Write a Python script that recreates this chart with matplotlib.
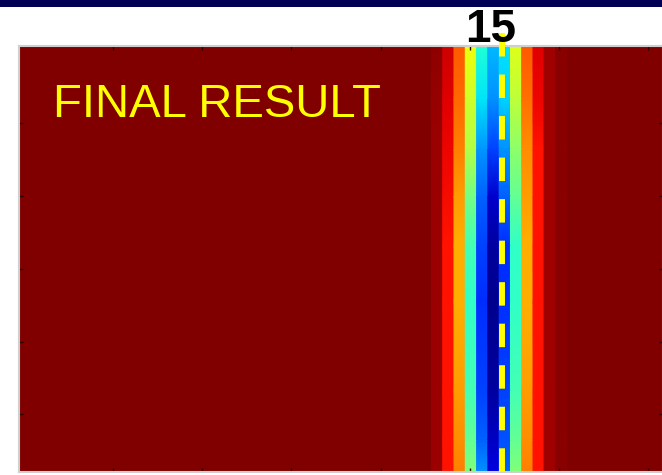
import numpy as np
import matplotlib
matplotlib.use("Agg")
import matplotlib.pyplot as plt
from matplotlib import transforms
from matplotlib.patches import Rectangle

plt.rcParams["lines.scale_dashes"] = False

# Trace positions along the profile and depth range
x_min, x_max = 0.0, 20.0
n_traces = 58
depth_max = 38.0
marker_x = 15

# Traces inside the low-misfit band (all other traces sit at the maximum, 1.0)
band_traces = [37, 38, 39, 40, 41, 42, 43, 44, 45, 46, 47, 48]

# Depths at which the normalised misfit was sampled
depth_nodes = [0.0, 4.7, 9.2, 13.4, 17.8, 22.7, 30.8, 35.2, 38.0]

# Normalised misfit for the band traces, one list per depth node
misfit_d0 = [0.985, 0.930, 0.815, 0.640, 0.390, 0.305, 0.345, 0.620, 0.815, 0.917, 0.970, 0.990]
misfit_d1 = [0.980, 0.917, 0.797, 0.600, 0.350, 0.266, 0.330, 0.580, 0.790, 0.903, 0.970, 0.990]
misfit_d2 = [0.975, 0.903, 0.775, 0.565, 0.270, 0.190, 0.266, 0.520, 0.760, 0.890, 0.970, 0.990]
misfit_d3 = [0.975, 0.895, 0.745, 0.490, 0.220, 0.070, 0.220, 0.470, 0.745, 0.890, 0.970, 0.990]
misfit_d4 = [0.975, 0.890, 0.724, 0.430, 0.190, 0.028, 0.170, 0.410, 0.724, 0.890, 0.970, 0.990]
misfit_d5 = [0.975, 0.890, 0.724, 0.410, 0.170, 0.014, 0.170, 0.410, 0.724, 0.890, 0.970, 0.990]
misfit_d6 = [0.975, 0.890, 0.745, 0.430, 0.190, 0.028, 0.190, 0.430, 0.745, 0.890, 0.970, 0.990]
misfit_d7 = [0.975, 0.890, 0.760, 0.470, 0.220, 0.062, 0.205, 0.470, 0.760, 0.890, 0.970, 0.990]
misfit_d8 = [0.975, 0.890, 0.775, 0.505, 0.266, 0.084, 0.220, 0.505, 0.775, 0.890, 0.970, 0.990]
misfit_rows = [misfit_d0, misfit_d1, misfit_d2, misfit_d3, misfit_d4,
               misfit_d5, misfit_d6, misfit_d7, misfit_d8]

trace_x = np.linspace(x_min, x_max, n_traces)
dx = trace_x[1] - trace_x[0]

# Build a mesh whose cells are flat across each trace and shaded along depth
x_nodes = []
for t in band_traces:
    x_nodes += [trace_x[t] - dx / 2, trace_x[t] + dx / 2]
X, Y = np.meshgrid(np.array(x_nodes), np.array(depth_nodes))
C = np.repeat(np.array(misfit_rows), 2, axis=1)

W, H = 662, 475
fig = plt.figure(figsize=(W / 100, H / 100), dpi=100)
fig.patch.set_facecolor("white")

# header strip
fig.patches.append(Rectangle((0, 1 - 7 / H), 1, 7 / H, transform=fig.transFigure,
                             facecolor="#000055", edgecolor="none", zorder=0))

ax = fig.add_axes([19 / W, 3 / H, 644 / W, 426 / H])
cmap = plt.get_cmap("jet")
ax.set_facecolor(cmap(1.0))
ax.pcolormesh(X, Y, C, shading="gouraud", cmap=cmap, vmin=0.0, vmax=1.0,
              antialiased=False)
ax.set_xlim(x_min, x_max)
ax.set_ylim(depth_max, 0.0)

ax.set_xticks(2.92 + 2.77 * np.arange(7))
ax.set_yticks(6.87 + 6.5 * np.arange(5))
ax.tick_params(direction="in", length=3, width=1, color="#2a0000",
               top=True, right=True, labelbottom=False, labelleft=False)
for s in ax.spines.values():
    s.set_color("#cfcfcf")
    s.set_linewidth(1.5)

# marker line at the picked trace position
ax.plot([marker_x, marker_x], [-1.16, depth_max], color="#ffff00", lw=4.3,
        linestyle=(0, (16.9, 13.0)), solid_capstyle="butt", clip_on=False, zorder=5)

blend = transforms.blended_transform_factory(ax.transData, fig.transFigure)
fig.text(marker_x - 0.34, 1 - 42 / H, str(marker_x), transform=blend,
         ha="center", va="baseline", fontsize=33, fontweight="bold",
         family=["Liberation Sans", "DejaVu Sans"], color="black", zorder=6)

fig.text(53 / W, 1 - 117 / H, "FINAL RESULT", ha="left", va="baseline",
         fontsize=34, family=["Liberation Sans", "DejaVu Sans"], color="#ffff00")

fig.savefig("out.png", dpi=100, facecolor=fig.get_facecolor())
